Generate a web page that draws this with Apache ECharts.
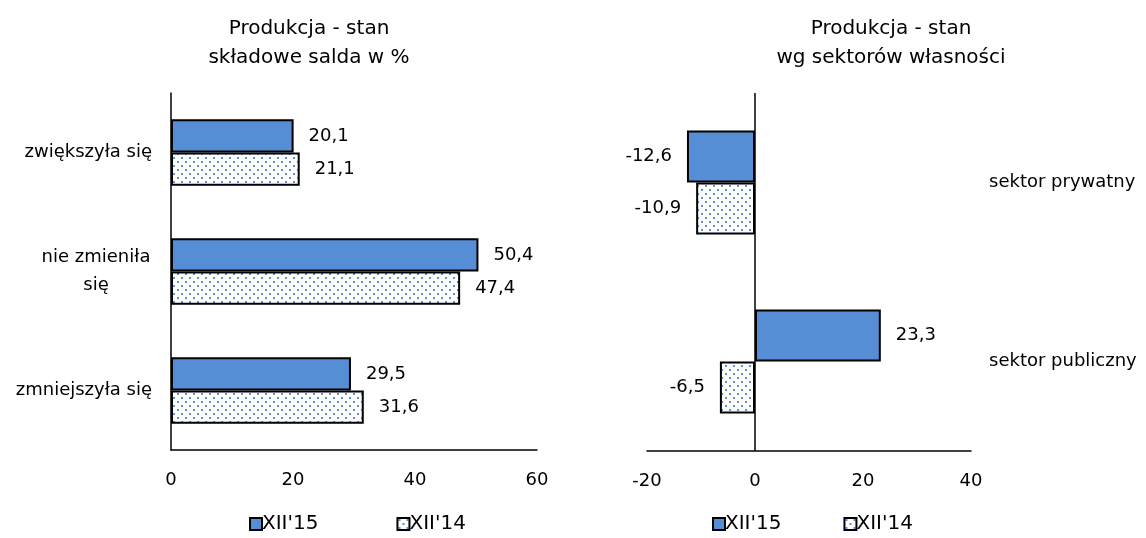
<!DOCTYPE html>
<html>
<head>
<meta charset="utf-8">
<script src="https://cdn.jsdelivr.net/npm/echarts@6/dist/echarts.min.js"></script>
<style>
html, body { margin: 0; padding: 0; background: #fff; }
#chart { width: 1146px; height: 538px; }
</style>
</head>
<body>
<div id="chart"></div>
<script>
// dane
var skladoweKategorie = ['zwiększyła się', 'nie zmieniła się', 'zmniejszyła się'];
var skladowe15 = [20.1, 50.4, 29.5];
var skladowe14 = [21.1, 47.4, 31.6];

var sektoryKategorie = ['sektor prywatny', 'sektor publiczny'];
var sektory15 = [-12.6, 23.3];
var sektory14 = [-10.9, -6.5];

var nazwySerii = ["XII'15", "XII'14"];
var osLewaTicks = [0, 20, 40, 60];
var osPrawaTicks = [-20, 0, 20, 40];

var FONT = '"DejaVu Sans", Verdana, sans-serif';
var NIEBIESKI = '#558ED5';

// kropkowany wzor dla XII'14
var wzor = document.createElement('canvas');
wzor.width = 8;
wzor.height = 8;
var ctx = wzor.getContext('2d');
ctx.fillStyle = '#fff';
ctx.fillRect(0, 0, 8, 8);
ctx.fillStyle = '#5B8FD9';
ctx.fillRect(1, 1, 2, 2);
ctx.fillRect(5, 5, 2, 2);

function przecinek(v) {
	return String(v).replace('.', ',');
}

function daneZEtykieta(arr) {
	return arr.map(function (v) {
		return {
			value: v,
			label: { position: v < 0 ? 'left' : 'right' }
		};
	});
}

var etykieta = {
	show: true,
	distance: 15,
	color: '#000',
	fontSize: 18,
	fontFamily: FONT,
	formatter: function (p) { return przecinek(p.value); }
};

function seria(nazwa, dane, axisIdx, wypelnienie) {
	return {
		name: nazwa,
		type: 'bar',
		xAxisIndex: axisIdx,
		yAxisIndex: axisIdx,
		barGap: '0%',
		barCategoryGap: axisIdx === 0 ? '44%' : '42%',
		itemStyle: {
			color: wypelnienie,
			borderColor: '#000',
			borderWidth: 2
		},
		label: etykieta,
		data: daneZEtykieta(dane)
	};
}

var seriaPrawa15 = seria(nazwySerii[0], sektory15, 1, NIEBIESKI);
// pionowa linia na zerze w prawym wykresie
seriaPrawa15.markLine = {
	silent: true,
	symbol: 'none',
	label: { show: false },
	lineStyle: { color: '#000', width: 1.5, type: 'solid' },
	data: [{ xAxis: 0 }]
};

var tytulStyl = { fontSize: 20, fontWeight: 'normal', color: '#000', lineHeight: 29, fontFamily: FONT };
var legendaStyl = { fontSize: 20, color: '#000', fontFamily: FONT, padding: [0, 0, 0, -5] };

var chart = echarts.init(document.getElementById('chart'));

chart.setOption({
	animation: false,
	textStyle: { fontFamily: FONT },
	title: [{
		text: 'Produkcja - stan\nskładowe salda w %',
		left: 304,
		top: 9,
		textAlign: 'center',
		textStyle: tytulStyl
	}, {
		text: 'Produkcja - stan\nwg sektorów własności',
		left: 886,
		top: 9,
		textAlign: 'center',
		textStyle: tytulStyl
	}],
	legend: [{
		data: nazwySerii,
		left: 249,
		top: 514,
		padding: 0,
		itemWidth: 12,
		itemHeight: 12,
		itemGap: 78,
		icon: 'rect',
		textStyle: legendaStyl
	}, {
		data: nazwySerii,
		left: 712,
		top: 514,
		padding: 0,
		itemWidth: 12,
		itemHeight: 12,
		itemGap: 62,
		icon: 'rect',
		textStyle: legendaStyl
	}],
	grid: [
		{ left: 171, top: 93, width: 366, height: 357, outerBoundsMode: 'none', containLabel: false },
		{ left: 647, top: 93, width: 324, height: 358, outerBoundsMode: 'none', containLabel: false }
	],
	xAxis: [{
		type: 'value',
		gridIndex: 0,
		min: osLewaTicks[0],
		max: osLewaTicks[osLewaTicks.length - 1],
		interval: osLewaTicks[1] - osLewaTicks[0],
		axisLine: { show: true, lineStyle: { color: '#000', width: 1.5 } },
		axisTick: { show: false },
		splitLine: { show: false },
		axisLabel: { fontSize: 18, color: '#000', margin: 21 }
	}, {
		type: 'value',
		gridIndex: 1,
		min: osPrawaTicks[0],
		max: osPrawaTicks[osPrawaTicks.length - 1],
		interval: osPrawaTicks[1] - osPrawaTicks[0],
		axisLine: { show: true, onZero: false, lineStyle: { color: '#000', width: 1.5 } },
		axisTick: { show: false },
		splitLine: { show: false },
		axisLabel: { fontSize: 18, color: '#000', margin: 21 }
	}],
	yAxis: [{
		type: 'category',
		gridIndex: 0,
		inverse: true,
		data: skladoweKategorie,
		axisLine: { show: true, lineStyle: { color: '#000', width: 1.5 } },
		axisTick: { show: false },
		axisLabel: {
			fontSize: 18,
			color: '#000',
			margin: 19,
			formatter: function (v) {
				if (v === 'nie zmieniła się') return '{c|nie zmieniła}\n{c|się}';
				return v;
			},
			rich: {
				c: { width: 112, align: 'center', fontSize: 18, lineHeight: 28, color: '#000', fontFamily: FONT }
			}
		}
	}, {
		type: 'category',
		gridIndex: 1,
		inverse: true,
		data: sektoryKategorie,
		position: 'right',
		axisLine: { show: false },
		axisTick: { show: false },
		axisLabel: { fontSize: 18, color: '#000', margin: 18, align: 'left' }
	}],
	series: [
		seria(nazwySerii[0], skladowe15, 0, NIEBIESKI),
		seria(nazwySerii[1], skladowe14, 0, { image: wzor, repeat: 'repeat' }),
		seriaPrawa15,
		seria(nazwySerii[1], sektory14, 1, { image: wzor, repeat: 'repeat' })
	]
});
</script>
</body>
</html>
